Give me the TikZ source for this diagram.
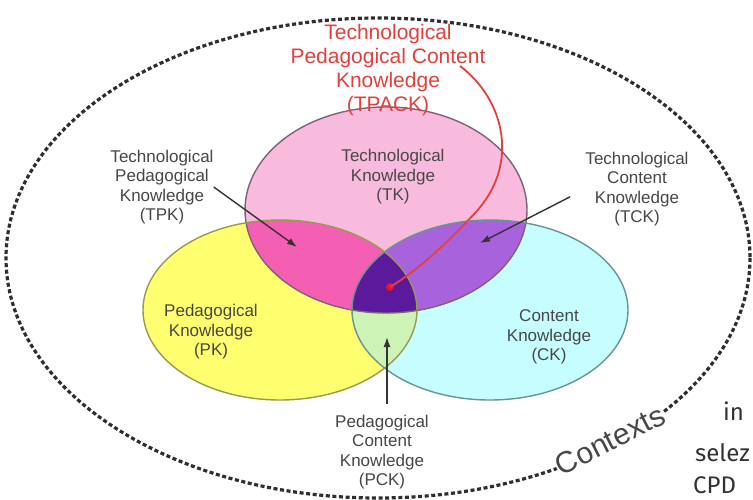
\documentclass[tikz,border=0pt]{standalone}
\usepackage{fontspec}
\setmainfont{Liberation Sans}
\newfontfamily\pagefont{Fira Sans}
\usepackage{tikz}
\usetikzlibrary{arrows.meta}

\definecolor{tkpink}{HTML}{F9BBDD}
\definecolor{tpkpink}{HTML}{F45FB4}
\definecolor{tckpurple}{HTML}{A863DC}
\definecolor{tpackpurple}{HTML}{5B1A9C}
\definecolor{pkyellow}{HTML}{FFFF70}
\definecolor{ckcyan}{HTML}{C6FEFF}
\definecolor{pckgreen}{HTML}{CDF3B6}
\definecolor{tkline}{HTML}{7E6278}
\definecolor{pkline}{HTML}{999950}
\definecolor{ckline}{HTML}{689496}
\definecolor{labelgray}{HTML}{474747}
\definecolor{tpackred}{HTML}{E2403C}
\definecolor{dotred}{HTML}{E8112D}
\definecolor{dashgray}{HTML}{2E2E2E}

% the three knowledge domains
\newcommand{\tkshape}{(386,210) ellipse [x radius=141, y radius=103]}
\newcommand{\pkshape}{(280,310) ellipse [x radius=137, y radius=90]}
\newcommand{\ckshape}{(490,310) ellipse [x radius=138, y radius=90]}

\begin{document}
\begin{tikzpicture}[x=1pt, y=-1pt,
                    kntext/.style={align=center, inner sep=0pt, text=labelgray,
                                   font=\fontsize{17}{19.5}\selectfont},
                    tpacktext/.style={align=center, inner sep=0pt, text=tpackred,
                                      font=\fontsize{21}{24}\selectfont},
                    ctxtext/.style={inner sep=1pt, fill=white, text=labelgray,
                                    font=\fontsize{30}{30}\selectfont},
                    pagetext/.style={anchor=west, inner sep=0pt, text=black!80,
                                     font=\pagefont\fontsize{24}{24}\selectfont},
                    pointer/.style={-{Latex[length=10pt,width=7pt]}, draw=black!80, line width=1.4pt},
                    outline/.style={line width=1.4pt}
                    ]

  \useasboundingbox (0,0) rectangle (753,499);
  \fill[white] (0,0) rectangle (753,499);

  % contexts
  \draw[dashgray, line width=3.2pt, dash pattern=on 4pt off 2.6pt]
    (378,258) ellipse [x radius=372, y radius=240];

  % base fills
  \fill[tkpink] \tkshape;
  \fill[pkyellow] \pkshape;
  \fill[ckcyan] \ckshape;

  % overlaps
  \begin{scope}
    \clip \tkshape;
    \fill[tpkpink] \pkshape;
    \fill[tckpurple] \ckshape;
  \end{scope}
  \begin{scope}
    \clip \pkshape;
    \fill[pckgreen] \ckshape;
  \end{scope}
  \begin{scope}
    \clip \tkshape;
    \clip \pkshape;
    \fill[tpackpurple] \ckshape;
  \end{scope}

  \draw[outline, tkline] \tkshape;
  \draw[outline, pkline] \pkshape;
  \draw[outline, ckline] \ckshape;

  % labels
  \node[tpacktext] (tpack) at (388,70) {Technological\\Pedagogical Content\\Knowledge\\(TPACK)};
  \node[kntext] (tk) at (393,177) {Technological\\Knowledge\\(TK)};
  \node[kntext] (tpk) at (162,187) {Technological\\Pedagogical\\Knowledge\\(TPK)};
  \node[kntext] (tck) at (637,189) {Technological\\Content\\Knowledge\\(TCK)};
  \node[kntext] (pk) at (211,332) {Pedagogical\\Knowledge\\(PK)};
  \node[kntext] (ck) at (549,337) {Content\\Knowledge\\(CK)};
  \node[kntext] (pck) at (382,452) {Pedagogical\\Content\\Knowledge\\(PCK)};

  % arrows into the overlaps
  \coordinate (tpkpt) at (297,247);
  \coordinate (tckpt) at (480,243);
  \coordinate (pckpt) at (387,337);
  \draw[pointer] (tpk.east) -- (tpkpt);
  \draw[pointer, shorten <=17pt] (tck.west) -- (tckpt);
  \draw[pointer] ([yshift=11pt]pck.north -| pckpt) -- (pckpt);

  % TPACK pointer
  \coordinate (tpacktail) at (460,66);
  \node[circle, fill=dotred, minimum size=8pt, inner sep=0pt] (tpackdot) at (390,287) {};
  \draw[tpackred, line width=1.8pt]
    (tpacktail) .. controls (505,100) and (520,165) .. (475,213)
                .. controls (445,245) and (418,270) .. (tpackdot.center);

  \node[ctxtext, rotate=27] (ctx) at (610,440) {Contexts};

  % page text running past the edge
  \begin{scope}
    \clip (0,0) rectangle (753,499);
    \node[pagetext] (frag1) at (723,411) {in};
    \node[pagetext] (frag2) at (695,453) {selez};
    \node[pagetext] (frag3) at (693,485) {CPD};
  \end{scope}

\end{tikzpicture}
\end{document}
